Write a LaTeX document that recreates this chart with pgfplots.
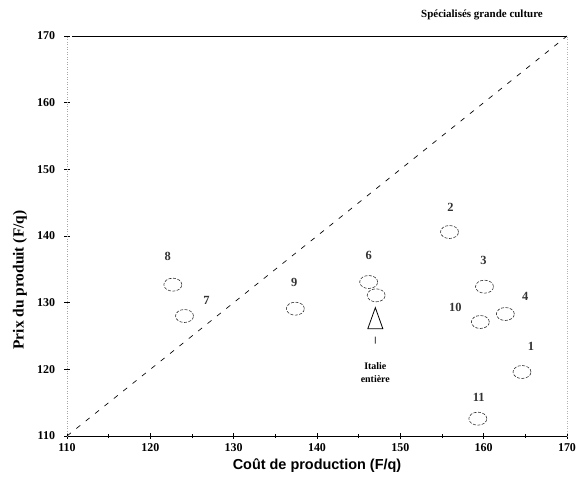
\documentclass[border=0pt]{standalone}
\usepackage{pgfplots}
\pgfplotsset{compat=1.18}
\usepackage{fontspec}
\setmainfont{Liberation Serif}
\setsansfont{Liberation Sans}

\pgfdeclareplotmark{ell}{%
  \pgfpathellipse{\pgfpointorigin}{\pgfqpoint{9bp}{0bp}}{\pgfqpoint{0bp}{6.5bp}}%
  \pgfusepathqstroke}
\pgfdeclareplotmark{talltri}{%
  \pgfpathmoveto{\pgfqpoint{0bp}{11bp}}%
  \pgfpathlineto{\pgfqpoint{-7.5bp}{-10bp}}%
  \pgfpathlineto{\pgfqpoint{7.5bp}{-10bp}}%
  \pgfpathclose
  \pgfpathmoveto{\pgfqpoint{0bp}{-18bp}}%
  \pgfpathlineto{\pgfqpoint{0bp}{-25bp}}%
  \pgfusepathqstroke}

\pgfplotstableread{
x y lab dx dy
122.7 132.7 8 -5 28
124.1 128.0 7 22 16
137.4 129.1 9 -1 26
146.2 133.1 6 0 27
155.9 140.6 2 1 25
160.1 132.4 3 -1 26
159.6 127.1 10 -25 15
162.6 128.3 4 20 18
164.6 119.6 1 9 26
159.3 112.6 11 1 21
}\pts

\begin{document}
\begin{tikzpicture}
\path[use as bounding box] (0,0) rectangle (580bp,477bp);
\begin{axis}[
  at={(67bp,41bp)}, anchor=south west,
  scale only axis, width=500bp, height=400bp,
  xmin=110, xmax=170, ymin=110, ymax=170,
  clip=false,
  axis line style={draw=none},
  xtick={110,120,...,170}, ytick={110,120,...,170},
  minor x tick num=1,
  xtick pos=bottom, ytick pos=left,
  tick align=center,
  major tick length=5bp, minor tick length=4bp,
  tick style={black, line width=0.6bp},
  /pgf/number format/assume math mode=true,
  ticklabel style={font=\bfseries\fontsize{12}{13}\selectfont},
  xticklabel style={yshift=-2bp},
  yticklabel style={xshift=-6bp},
  xlabel={Coût de production (F/q)},
  xlabel style={font=\sffamily\bfseries\fontsize{14.5}{16}\selectfont, at={(axis description cs:0.5,0)}, anchor=center, yshift=-30bp},
  ylabel={Prix du produit (F/q)},
  ylabel style={font=\bfseries\fontsize{15.5}{17}\selectfont, at={(axis description cs:-0.094,0.39)}, anchor=center, rotate=0},
]
\draw[black, line width=0.9bp] (rel axis cs:0,0) -- (rel axis cs:1,0);
\draw[black, line width=0.9bp] (rel axis cs:0.01,1) -- (rel axis cs:1,1);
\draw[gray!70, line width=0.5bp, dotted] (rel axis cs:0,0) -- (rel axis cs:0,1);
\draw[gray!60, line width=0.5bp, dotted] (rel axis cs:1,0) -- (rel axis cs:1,1);

\addplot[black, line width=0.7bp, dash pattern=on 5bp off 7bp] coordinates {(110,110) (170,170)};

\addplot[only marks, mark=ell, mark options={black!80, line width=0.6bp, dash pattern=on 3bp off 1.5bp},
  nodes near coords, point meta=explicit symbolic,
  visualization depends on={\thisrow{dx}\as\dx},
  visualization depends on={\thisrow{dy}\as\dy},
  every node near coord/.append style={anchor=center, font=\bfseries\fontsize{12.5}{14}\selectfont, xshift=\dx bp, yshift=\dy bp}]
  table[x=x, y=y, meta=lab] {\pts};

\addplot[only marks, mark=ell, mark options={black!80, line width=0.6bp, dash pattern=on 3bp off 1.5bp}]
  coordinates {(147.1,131.1)};

\addplot[only marks, mark=talltri, mark options={black, line width=0.8bp},
  nodes near coords={Italie\\entière}, 
  every node near coord/.append style={anchor=center, align=center, font=\bfseries\fontsize{10}{12.5}\selectfont, yshift=-54bp}]
  coordinates {(147.0,127.6)};

\node[font=\bfseries\fontsize{11}{12}\selectfont] at (axis description cs:0.83,1) [yshift=21bp] {Spécialisés grande culture};
\end{axis}
\end{tikzpicture}
\end{document}
